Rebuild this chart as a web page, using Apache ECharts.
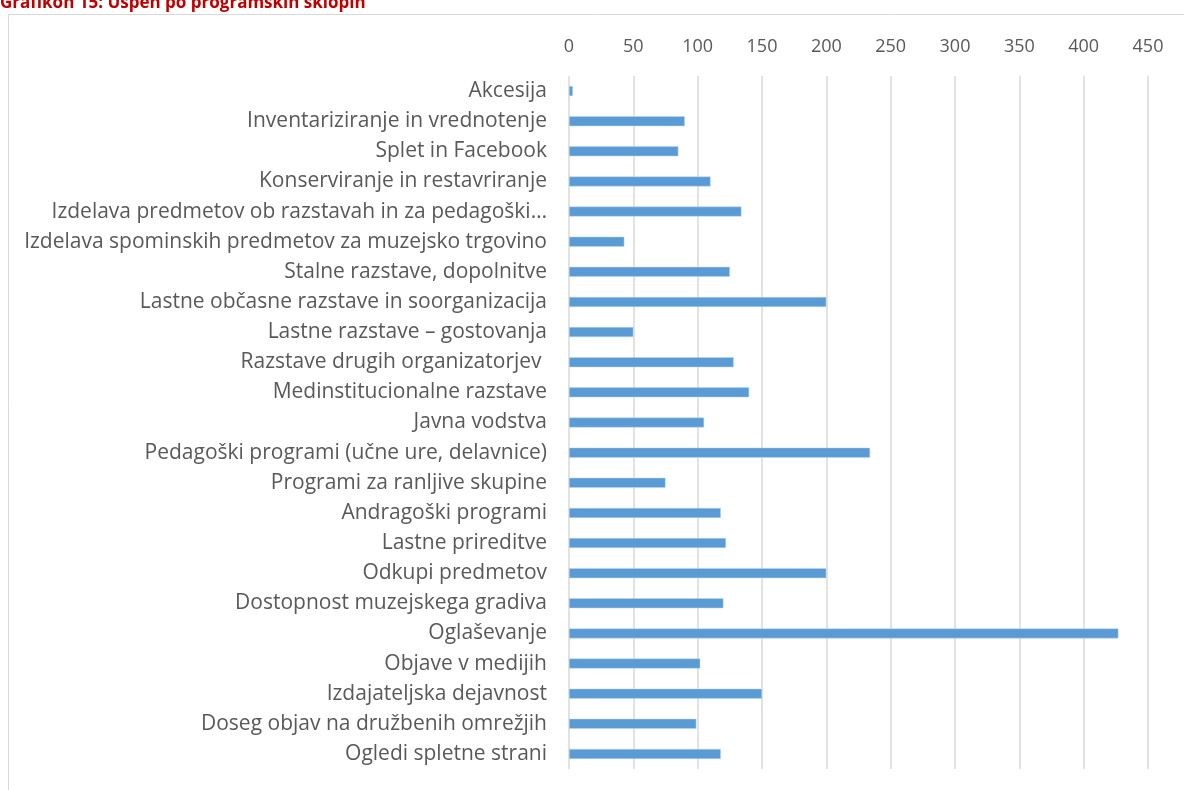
<!DOCTYPE html>
<html>
<head>
<meta charset="utf-8">
<script src="https://cdn.jsdelivr.net/npm/echarts@6/dist/echarts.min.js"></script>
<style>
  html, body { margin: 0; padding: 0; background: #fff; }
  #main { width: 1184px; height: 790px; }
</style>
</head>
<body>
<div id="main"></div>
<script>
// kategorije (od zgoraj navzdol)
var categories = [
  'Akcesija',
  'Inventariziranje in vrednotenje',
  'Splet in Facebook',
  'Konserviranje in restavriranje',
  'Izdelava predmetov ob razstavah in za pedagoški…',
  'Izdelava spominskih predmetov za muzejsko trgovino',
  'Stalne razstave, dopolnitve',
  'Lastne občasne razstave in soorganizacija',
  'Lastne razstave – gostovanja',
  'Razstave drugih organizatorjev ',
  'Medinstitucionalne razstave',
  'Javna vodstva',
  'Pedagoški programi (učne ure, delavnice)',
  'Programi za ranljive skupine',
  'Andragoški programi',
  'Lastne prireditve',
  'Odkupi predmetov',
  'Dostopnost muzejskega gradiva',
  'Oglaševanje',
  'Objave v medijih',
  'Izdajateljska dejavnost',
  'Doseg objav na družbenih omrežjih',
  'Ogledi spletne strani'
];
var values = [3, 90, 85, 110, 134, 43, 125, 200, 50, 128, 140, 105, 234, 75, 118, 122, 200, 120, 427, 102, 150, 99, 118];
var axisMax = 450;
var axisStep = 50;

var chartDom = document.getElementById('main');
var myChart = echarts.init(chartDom);

var option = {
  animation: false,
  graphic: [
    {
      type: 'rect',
      shape: { x: 8.5, y: 14.5, width: 1200, height: 800 },
      style: { fill: 'none', stroke: '#d9d9d9', lineWidth: 1 }
    },
    {
      type: 'text',
      x: 0,
      y: 12,
      style: {
        text: 'Grafikon 15: Uspeh po programskih sklopih',
        font: 'bold 17px "Open Sans"',
        fill: '#c00000',
        verticalAlign: 'bottom'
      }
    }
  ],
  grid: { left: 569, right: 36, top: 76, bottom: 21 },
  xAxis: {
    type: 'value',
    position: 'top',
    min: 0,
    max: axisMax,
    interval: axisStep,
    axisLine: { show: false },
    axisTick: { show: false },
    axisLabel: { color: '#595959', fontSize: 18, fontFamily: 'Open Sans', margin: 20 },
    splitLine: { lineStyle: { color: '#d9d9d9', width: 1.5 } }
  },
  yAxis: {
    type: 'category',
    inverse: true,
    data: categories,
    axisLine: { show: false },
    axisTick: { show: false },
    axisLabel: { color: '#595959', fontSize: 21, fontFamily: 'Open Sans', margin: 22 }
  },
  series: [
    {
      type: 'bar',
      data: values,
      barWidth: 10,
      itemStyle: { color: '#5b9bd5', borderColor: '#bdd7ee', borderWidth: 0.5 }
    }
  ]
};
myChart.setOption(option);
</script>
</body>
</html>
